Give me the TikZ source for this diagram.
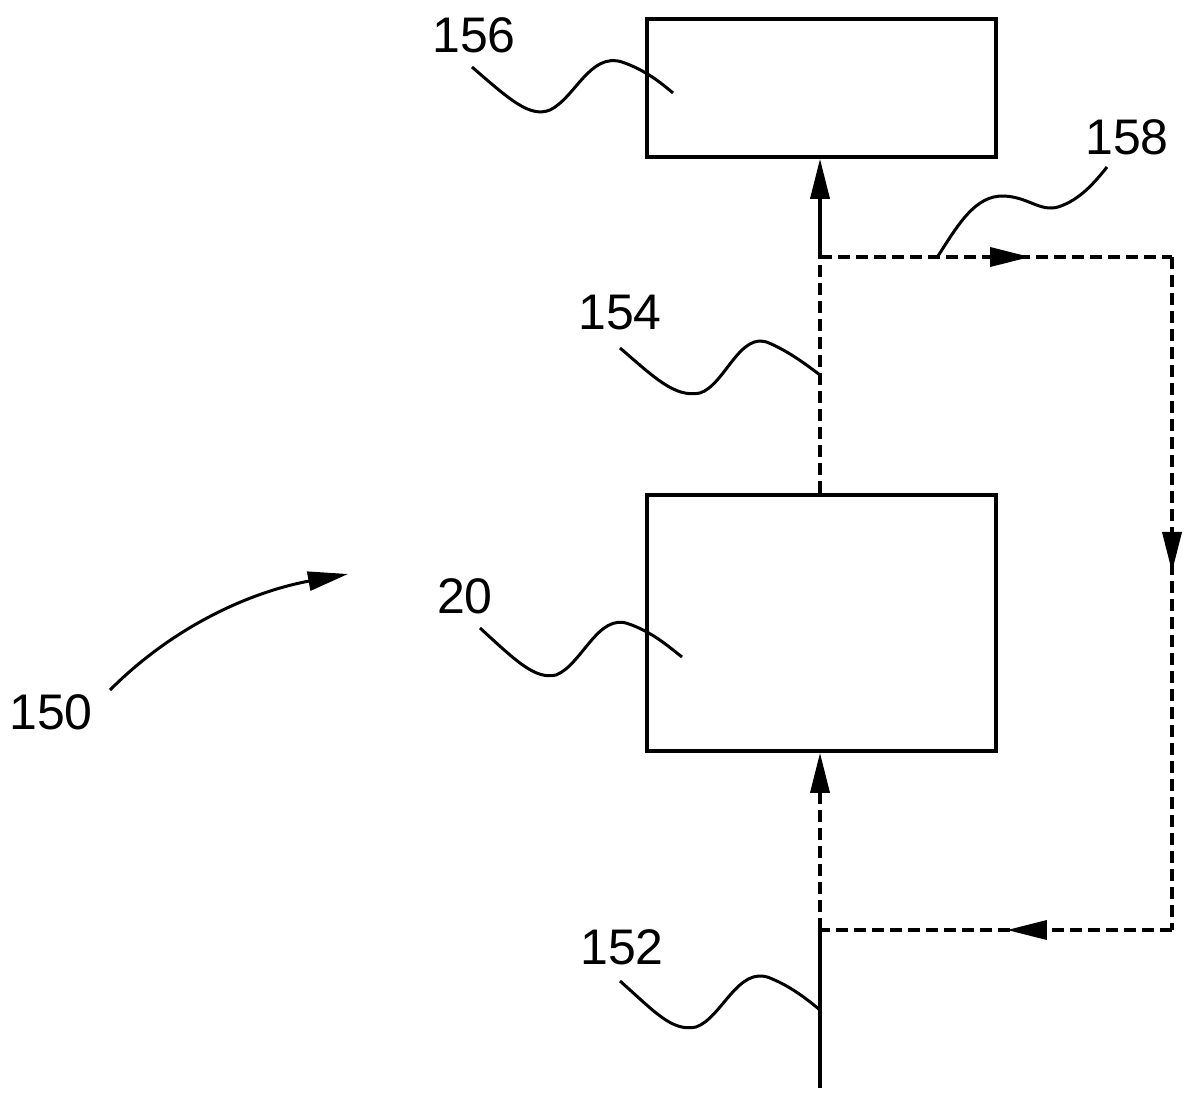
\documentclass[tikz,border=0pt]{standalone}
\usepackage{fontspec}
\setmainfont{Liberation Sans}
\usetikzlibrary{positioning,arrows.meta,decorations.markings}

\begin{document}
\begin{tikzpicture}[
  x=1pt, y=-1pt, line width=3.6pt,
  font=\fontsize{50}{58}\selectfont,
  >={Triangle[length=40pt,width=19pt]},
  box/.style={draw, minimum width=349pt, minimum height=#1, inner sep=0pt},
  box/.default=138pt,
  flow/.style={dash pattern=on 12pt off 6pt},
  midarrow/.style={postaction={decorate}, decoration={markings,
    mark=at position #1 with {\arrow{>}}}},
  tag/.style={inner sep=0pt, anchor=center},
  leader/.style={line width=3pt}]
  \useasboundingbox (0,0) rectangle (1194,1105);

  % blocks
  \node[box] (store) at (821.5,88) {};
  \node[box=256pt] (unit) at (821.5,623) {};

  % junctions of the return loop
  \coordinate (split) at (820,257);
  \coordinate (merge) at (820,930);
  \coordinate (loopne) at (1172,257);
  \coordinate (loopse) at (1172,930);
  \coordinate (inlet) at (820,1088);

  % main line
  \draw (inlet) -- (merge);
  \draw[flow, ->] (merge) -- (unit.south -| merge);
  \draw[flow] (unit.north -| split) -- (split);
  \draw[->] (split) -- (store.south -| split);

  % return loop
  \draw[flow, midarrow=0.597] (split) -- (loopne);
  \draw[flow, midarrow=0.468] (loopne) -- (loopse);
  \draw[flow, midarrow=0.469] (loopse) -- (merge);

  % reference numerals
  \node[tag] (n156) at (474,35) {156};
  \node[tag] (n154) at (620,313) {154};
  \node[tag] (n20) at (465,596) {20};
  \node[tag] (n150) at (51,712) {150};
  \node[tag] (n152) at (622,947) {152};
  \node[tag] (n158) at (1127,137) {158};

  % leaders
  \draw[leader] (472,67) .. controls (510,100) and (530,118) .. (550,110)
    .. controls (575,98) and (590,52) .. (622,62) .. controls (645,70) and (660,82) .. (673,93);
  \draw[leader] (480,628) .. controls (515,660) and (535,680) .. (556,675)
    .. controls (582,665) and (598,612) .. (629,624) .. controls (652,632) and (668,646) .. (682,657);
  \draw[leader] (620,348) .. controls (655,378) and (675,398) .. (700,393)
    .. controls (725,385) and (740,330) .. (769,343) .. controls (790,352) and (808,366) .. (820,375);
  \draw[leader] (620,981) .. controls (655,1012) and (672,1032) .. (696,1027)
    .. controls (722,1018) and (738,965) .. (770,978) .. controls (792,987) and (808,1000) .. (820,1010);
  \draw[leader] (938,256) .. controls (958,225) and (975,195) .. (1004,196)
    .. controls (1028,197) and (1040,212) .. (1058,207) .. controls (1080,200) and (1095,182) .. (1107,167);
  \draw[leader, ->] (110,690) .. controls (180,620) and (260,590) .. (348,574);
\end{tikzpicture}
\end{document}
